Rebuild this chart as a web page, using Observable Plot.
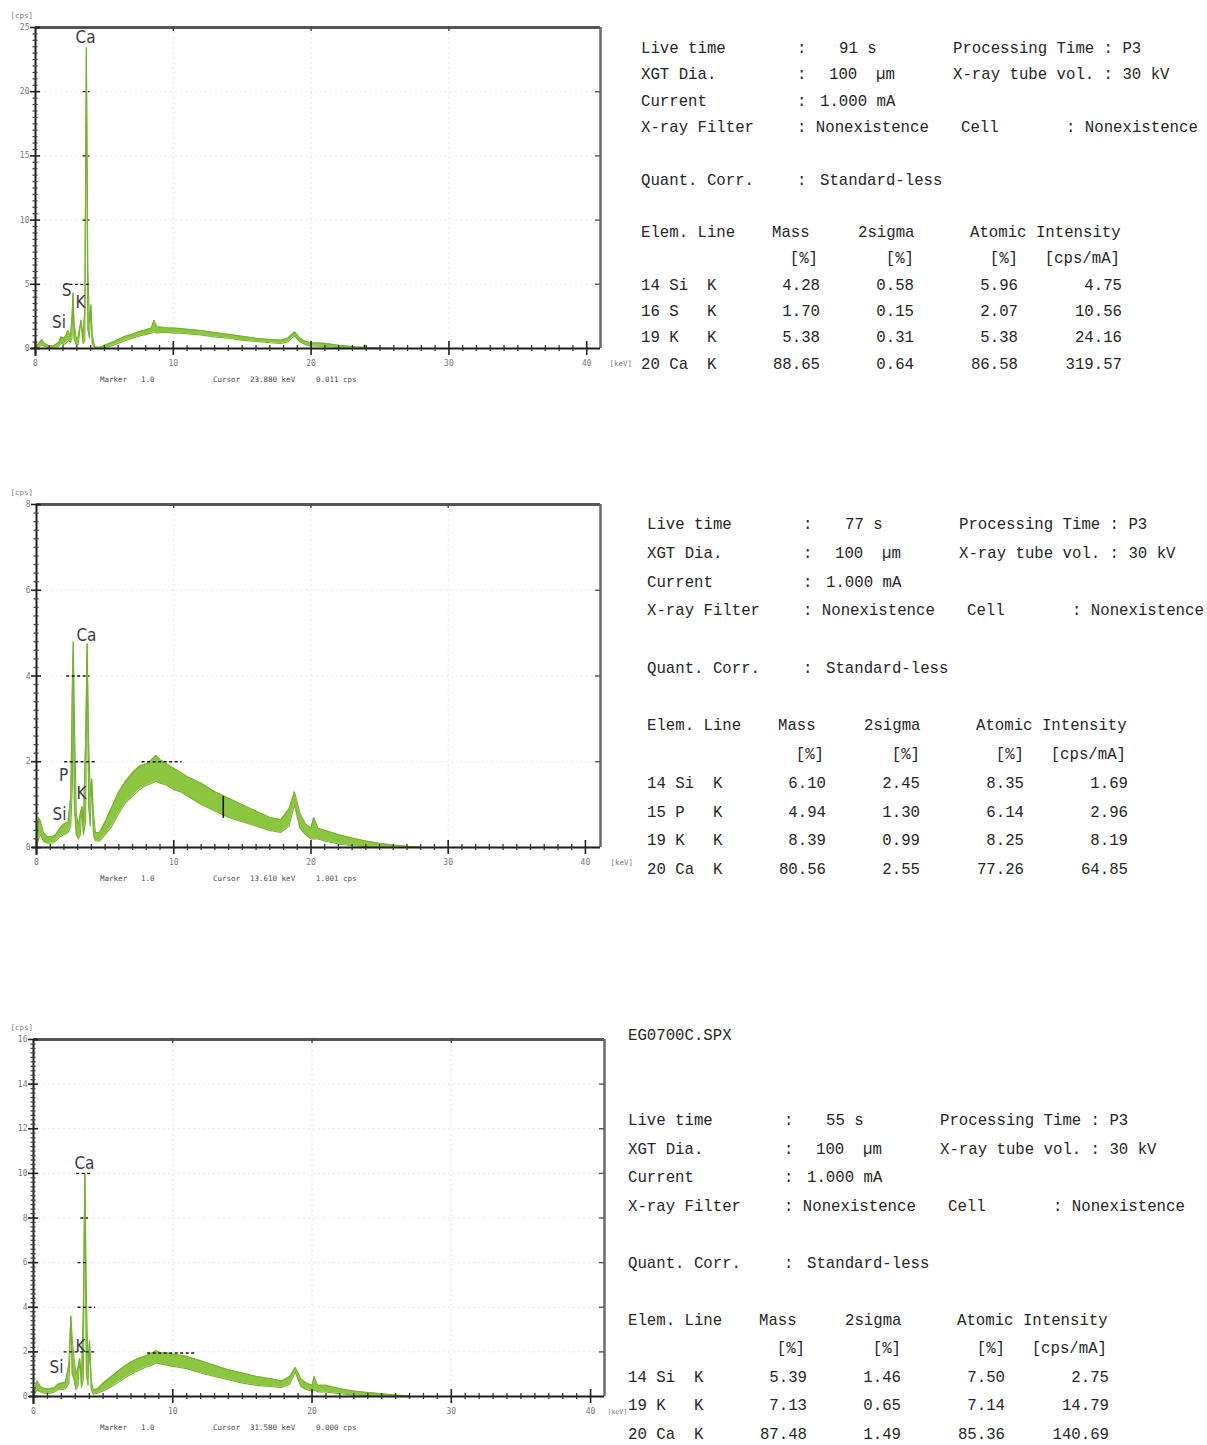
<!DOCTYPE html>
<html>
<head>
<meta charset="utf-8">
<script src="https://cdn.jsdelivr.net/npm/d3@7"></script>
<script src="https://cdn.jsdelivr.net/npm/@observablehq/plot@0.6"></script>
<style>
  html, body { margin: 0; padding: 0; background: #fff; }
  #page { position: relative; width: 1207px; height: 1445px; overflow: hidden; background: #fff; }
  .chart { position: absolute; left: 0; }
  .t { position: absolute; white-space: pre; font-family: "Liberation Mono", "DejaVu Sans Mono", monospace;
       font-size: 15.7px; line-height: 20px; color: #262626; transform-origin: 0 50%; }
  .r { transform: translateX(-100%); }
  .s { position: absolute; white-space: pre; font-family: "DejaVu Sans Mono", monospace;
       font-size: 7.5px; line-height: 10px; color: #4a4a4a; }
</style>
</head>
<body>
<div id="page"></div>
<script>
// ---------- Spectrum 1: energy (keV) with the low / high edge of the noisy trace (cps)
const keV1 = [0,0.25,0.45,0.6,0.9,1.3,1.7,1.85,2.05,2.2,2.35,2.55,2.65,2.72,2.8,2.95,3.1,3.3,3.45,3.58,3.69,3.8,3.92,4.02,4.12,4.3,4.7,5,5.5,6,6.5,7,7.5,8,8.4,8.6,8.8,9.2,9.6,10,10.5,11,11.5,12,13,14,15,16,17,17.8,18.3,18.8,19.2,19.6,20,21,22,23,24,25,26];
const lo1  = [0,0.1,0.3,0.2,0.05,0.05,0.2,0.4,0.3,0.4,0.6,0.5,0.8,4.3,0.8,0.3,0.3,2.2,0.4,0.6,23.4,1.5,0.8,3.4,0.4,0,0,0.05,0.2,0.4,0.6,0.8,0.95,1.1,1.2,1.3,1.2,1.25,1.25,1.2,1.2,1.15,1.1,1.05,0.9,0.8,0.65,0.55,0.45,0.4,0.5,1.0,0.5,0.3,0.2,0.15,0.08,0.03,0,0,0];
const hi1  = [0.1,0.4,0.7,0.45,0.25,0.2,0.5,0.9,0.8,1.0,1.4,1.0,2.5,4.3,2.0,0.8,0.9,2.2,1.0,3.0,23.4,6.0,2.0,3.4,1.0,0.1,0.1,0.25,0.45,0.7,0.95,1.1,1.3,1.45,1.6,2.2,1.7,1.65,1.6,1.6,1.55,1.5,1.45,1.4,1.25,1.1,0.95,0.8,0.7,0.65,0.8,1.3,0.8,0.55,0.45,0.4,0.25,0.15,0.08,0.04,0.02];

// ---------- Spectrum 2
const keV2 = [0,0.15,0.3,0.5,0.8,1.1,1.4,1.7,2.0,2.3,2.5,2.62,2.68,2.76,2.9,3.05,3.2,3.31,3.42,3.58,3.69,3.8,3.92,4.02,4.15,4.3,4.6,5,5.5,6,6.5,7,7.5,8,8.4,8.7,9,9.5,10,10.5,11,12,13,14,15,16,17,17.8,18.4,18.8,19.2,19.6,20,20.2,20.5,21,22,23,24,25,26,27,28];
const lo2  = [0,0.2,0.3,0.15,0.1,0.1,0.15,0.25,0.3,0.35,0.5,1.5,4.8,1.0,0.3,0.2,0.3,0.95,0.3,0.6,4.75,1.0,0.5,1.6,0.3,0.15,0.15,0.3,0.5,0.8,1.05,1.2,1.35,1.45,1.5,1.55,1.5,1.45,1.35,1.3,1.2,1.0,0.85,0.7,0.6,0.5,0.4,0.35,0.5,1.0,0.45,0.3,0.2,0.2,0.2,0.15,0.08,0.04,0.02,0,0,0,0];
const hi2  = [0.1,0.7,0.6,0.35,0.25,0.25,0.3,0.45,0.55,0.6,1.2,4.0,4.8,3.0,0.8,0.5,0.8,0.95,0.6,2.5,4.75,2.5,1.2,1.6,0.8,0.35,0.35,0.6,0.95,1.3,1.55,1.75,1.9,1.95,2.05,2.15,2.05,1.95,1.85,1.75,1.65,1.5,1.3,1.15,1.0,0.85,0.7,0.65,0.9,1.3,0.8,0.55,0.45,0.7,0.45,0.4,0.3,0.22,0.15,0.1,0.06,0.03,0.01];

// ---------- Spectrum 3
const keV3 = [0,0.25,0.5,0.8,1.2,1.5,1.75,2.0,2.3,2.55,2.68,2.78,2.9,3.05,3.2,3.31,3.45,3.58,3.69,3.8,3.92,4.02,4.15,4.3,4.6,5,5.5,6,6.5,7,7.5,8,8.5,8.8,9.2,9.6,10,10.5,11,12,13,14,15,16,17,17.8,18.4,18.8,19.2,19.6,20,20.15,20.4,21,22,23,24,25,26,27];
const lo3  = [0,0.3,0.2,0.15,0.15,0.2,0.3,0.3,0.35,0.6,3.6,1.0,0.8,0.3,0.5,1.7,0.4,0.8,10.0,1.0,0.5,2.5,0.3,0.1,0.15,0.25,0.4,0.6,0.8,1.0,1.15,1.3,1.4,1.5,1.45,1.4,1.35,1.3,1.25,1.05,0.9,0.75,0.6,0.5,0.45,0.4,0.55,1.1,0.45,0.3,0.25,0.3,0.2,0.2,0.12,0.06,0.04,0.02,0,0];
const hi3  = [0.1,0.7,0.45,0.35,0.35,0.4,0.55,0.6,0.65,1.5,3.6,2.6,1.8,1.0,1.3,1.7,0.9,4.0,10.0,4.5,1.2,2.5,0.7,0.3,0.35,0.6,0.85,1.1,1.35,1.55,1.7,1.8,1.95,2.05,1.95,1.95,1.9,1.85,1.8,1.6,1.4,1.2,1.05,0.9,0.8,0.7,0.9,1.3,0.8,0.6,0.5,0.9,0.5,0.5,0.35,0.25,0.18,0.12,0.06,0.03];

// ---------- Peak labels (element, keV, cps)
const peakNames1 = ["Ca", "S", "K", "Si"];
const peakKeV1   = [3.63, 2.25, 3.27, 1.7];
const peakCps1   = [24.2, 4.5, 3.6, 2.0];
const peakNames2 = ["Ca", "P", "K", "Si"];
const peakKeV2   = [3.64, 1.97, 3.28, 1.68];
const peakCps2   = [4.94, 1.68, 1.26, 0.77];
const peakNames3 = ["Ca", "K", "Si"];
const peakKeV3   = [3.66, 3.37, 1.65];
const peakCps3   = [10.45, 2.24, 1.3];

// ---------- Dashed region markers (cps level, keV from, keV to)
const markLevel1 = [5, 10, 15, 20];
const markFrom1  = [2.1, 3.45, 3.45, 3.45];
const markTo1    = [3.9, 3.95, 3.95, 3.95];
const markLevel2 = [4, 2, 2];
const markFrom2  = [2.2, 2.05, 7.7];
const markTo2    = [3.9, 4.3, 10.6];
const markLevel3 = [10, 8, 6, 4, 2, 1.95];
const markFrom3  = [3.1, 3.4, 3.2, 3.2, 2.2, 8.2];
const markTo3    = [4.2, 3.95, 3.95, 4.45, 4.45, 11.7];

// ---------- Cursor readouts
const cursorKeV = ["23.880", "13.610", "31.580"];
const cursorCps = ["0.011", "1.001", "0.000"];
const cursorLow  = [0, 0.68, 0];
const cursorHigh = [0.25, 1.19, 0];

// ---------- Measurement conditions
const liveTime = [91, 77, 55];
const fileNames = ["", "", "EG0700C.SPX"];

// ---------- Quantification tables
const elems1 = ["14 Si", "16 S", "19 K", "20 Ca"];
const mass1  = [4.28, 1.70, 5.38, 88.65];
const sigma1 = [0.58, 0.15, 0.31, 0.64];
const atom1  = [5.96, 2.07, 5.38, 86.58];
const inten1 = [4.75, 10.56, 24.16, 319.57];

const elems2 = ["14 Si", "15 P", "19 K", "20 Ca"];
const mass2  = [6.10, 4.94, 8.39, 80.56];
const sigma2 = [2.45, 1.30, 0.99, 2.55];
const atom2  = [8.35, 6.14, 8.25, 77.26];
const inten2 = [1.69, 2.96, 8.19, 64.85];

const elems3 = ["14 Si", "19 K", "20 Ca"];
const mass3  = [5.39, 7.13, 87.48];
const sigma3 = [1.46, 0.65, 1.49];
const atom3  = [7.50, 7.14, 85.36];
const inten3 = [2.75, 14.79, 140.69];

// ---------- Layout of the three panels
const layout = [
  {top: 0,    width: 640, height: 395, left: 35, right: 600, plotTop: 27,   plotBottom: 348,  xMax: 41,   yMax: 25, yMajor: [0,5,10,15,20,25], yMinor: 0.5,
   unitDx: 9, unitSize: 7.5, textX: 641, textY: 47,   textStep: 26.3},
  {top: 480,  width: 640, height: 420, left: 36, right: 600, plotTop: 504,  plotBottom: 847,  xMax: 41.1, yMax: 8,  yMajor: [0,2,4,6,8],       yMinor: 0.2,
   unitDx: 10, unitSize: 7.5, textX: 647, textY: 523,  textStep: 28.75},
  {top: 1008, width: 628, height: 437, left: 33, right: 604, plotTop: 1039, plotBottom: 1396, xMax: 41,   yMax: 16, yMajor: [0,2,4,6,8,10,12,14,16], yMinor: 0.2,
   unitDx: 3, unitSize: 6.5, textX: 628, textY: 1119, textStep: 28.5}
];

const spectra = [
  {keV: keV1, lo: lo1, hi: hi1, names: peakNames1, pk: peakKeV1, pc: peakCps1, ml: markLevel1, mf: markFrom1, mt: markTo1},
  {keV: keV2, lo: lo2, hi: hi2, names: peakNames2, pk: peakKeV2, pc: peakCps2, ml: markLevel2, mf: markFrom2, mt: markTo2},
  {keV: keV3, lo: lo3, hi: hi3, names: peakNames3, pk: peakKeV3, pc: peakCps3, ml: markLevel3, mf: markFrom3, mt: markTo3}
];

const tables = [
  {elems: elems1, mass: mass1, sigma: sigma1, atom: atom1, inten: inten1},
  {elems: elems2, mass: mass2, sigma: sigma2, atom: atom2, inten: inten2},
  {elems: elems3, mass: mass3, sigma: sigma3, atom: atom3, inten: inten3}
];

const GREEN = "#8cc641";
const GREEN_EDGE = "#76b22c";
const tickFont = "'DejaVu Sans Mono', monospace";
const labelFont = "'Liberation Sans Narrow', 'DejaVu Sans Condensed', 'Liberation Sans', sans-serif";

const page = document.getElementById("page");

function drawSpectrum(i) {
  const L = layout[i], S = spectra[i];
  const band = S.keV.map((e, j) => ({e, lo: S.lo[j], hi: S.hi[j]}));
  const peaks = S.names.map((n, j) => ({n, x: S.pk[j], y: S.pc[j]}));
  const marks = S.ml.map((y, j) => ({y, x1: S.mf[j], x2: S.mt[j]}));
  const cursor = cursorHigh[i] > cursorLow[i] ? [{x: +cursorKeV[i], y1: cursorLow[i], y2: cursorHigh[i]}] : [];
  const xMajor = [0, 10, 20, 30, 40];
  const xMinor = d3.range(0, 41, 1).filter(v => v % 10 !== 0);
  const yMinor = d3.range(0, L.yMax + 1e-9, L.yMinor).map(v => +v.toFixed(2)).filter(v => !L.yMajor.includes(v));

  const plot = Plot.plot({
    width: L.width,
    height: L.height,
    marginTop: L.plotTop - L.top,
    marginBottom: L.top + L.height - L.plotBottom,
    marginLeft: L.left,
    marginRight: L.width - L.right,
    x: {domain: [0, L.xMax], label: null},
    y: {domain: [0, L.yMax], label: null},
    style: {background: "white"},
    marks: [
      // faint background grid
      Plot.ruleY(L.yMajor.slice(1, -1), {stroke: "#e6e6e6", strokeDasharray: "2,3"}),
      Plot.ruleX([10, 20, 30], {stroke: "#e6e6e6", strokeDasharray: "2,3"}),
      // spectrum trace: noise band plus its edges
      Plot.areaY(band, {x: "e", y1: "lo", y2: "hi", fill: GREEN}),
      Plot.line(band, {x: "e", y: "hi", stroke: GREEN_EDGE, strokeWidth: 1.1}),
      Plot.line(band, {x: "e", y: "lo", stroke: GREEN_EDGE, strokeWidth: 1.1}),
      // dashed region markers and cursor
      Plot.ruleY(marks, {y: "y", x1: "x1", x2: "x2", stroke: "#151515", strokeWidth: 1.3, strokeDasharray: "3,2.5"}),
      Plot.ruleX(cursor, {x: "x", y1: "y1", y2: "y2", stroke: "#151515", strokeWidth: 1.6}),
      // frame: grey top/right, black axes
      Plot.ruleY([L.yMax], {stroke: "#565656", strokeWidth: 3}),
      Plot.ruleX([L.xMax], {stroke: "#6a6a6a", strokeWidth: 2.5}),
      Plot.ruleX([0], {stroke: "#1e1e1e", strokeWidth: 2, insetBottom: -8}),
      Plot.ruleY([0], {stroke: "#1e1e1e", strokeWidth: 2, insetLeft: -4}),
      // tick marks on the axes
      Plot.ruleY(L.yMajor, {x1: 0, x2: 0, insetLeft: -5, insetRight: -5, stroke: "#222", strokeWidth: 1.6}),
      Plot.ruleY(yMinor, {x1: 0, x2: 0, insetLeft: -2.5, insetRight: -2.5, stroke: "#444", strokeWidth: 1.3}),
      Plot.ruleY(L.yMajor.slice(1, -1), {x1: L.xMax, x2: L.xMax, insetLeft: -5, stroke: "#555", strokeWidth: 1.4}),
      Plot.ruleX(xMajor, {y1: 0, y2: 0, insetTop: -7, insetBottom: -7, stroke: "#222", strokeWidth: 1.6}),
      Plot.ruleX(xMinor, {y1: 0, y2: 0, insetTop: -3, insetBottom: -3, stroke: "#333", strokeWidth: 1.3}),
      Plot.ruleX([10, 20, 30], {y1: L.yMax, y2: L.yMax, insetBottom: -4, stroke: "#444", strokeWidth: 1.4}),
      // axis labels
      Plot.axisY({ticks: L.yMajor, tickSize: 0, tickPadding: 6, fontSize: 8, color: "#777", fontFamily: tickFont, label: null}),
      Plot.axisX({ticks: xMajor, tickSize: 0, tickPadding: 12, fontSize: 8, color: "#777", fontFamily: tickFont, label: null}),
      Plot.text(["[cps]"], {text: d => d, frameAnchor: "top-left", dx: 10 - L.left, dy: -15, textAnchor: "start", fontSize: 7.5, fill: "#777", fontFamily: tickFont}),
      Plot.text(["[keV]"], {text: d => d, frameAnchor: "bottom-right", dx: L.unitDx, dy: 17, textAnchor: "start", fontSize: L.unitSize, fill: "#777", fontFamily: tickFont}),
      // element labels over the peaks
      Plot.text(peaks, {x: "x", y: "y", text: "n", fontSize: 17, fill: "#3c3c4a", fontFamily: labelFont})
    ]
  });
  const holder = document.createElement("div");
  holder.className = "chart";
  holder.style.top = L.top + "px";
  holder.style.width = L.width + "px";
  holder.appendChild(plot);
  page.appendChild(holder);

  // readout line under the chart
  const yRead = L.plotBottom + 32;
  put("Marker", 100, yRead, "s");
  put("1.0", 141, yRead, "s");
  put("Cursor", 213, yRead, "s");
  put(cursorKeV[i] + " keV", 250, yRead, "s");
  put(cursorCps[i] + " cps", 316, yRead, "s");
}

function put(str, x, y, cls) {
  const d = document.createElement("div");
  d.className = cls;
  d.textContent = str;
  d.style.left = x + "px";
  d.style.top = (y - (cls === "s" ? 5 : 8)) + "px";
  page.appendChild(d);
}

function drawInfo(i) {
  const L = layout[i], T = tables[i];
  const x0 = L.textX;
  const row = r => L.textY + r * L.textStep;
  const txt = (s, dx, r) => put(s, x0 + dx, row(r), "t");
  const rgt = (s, dx, r) => put(s, x0 + dx, row(r), "t r");

  if (fileNames[i]) txt(fileNames[i], 0, -3);
  txt("Live time", 0, 0);    txt(":", 156, 0); txt(liveTime[i] + " s", 198, 0); txt("Processing Time : P3", 312, 0);
  txt("XGT Dia.", 0, 1);     txt(":", 156, 1); txt("100  µm", 188, 1);           txt("X-ray tube vol. : 30 kV", 312, 1);
  txt("Current", 0, 2);      txt(":", 156, 2); txt("1.000 mA", 179, 2);
  txt("X-ray Filter", 0, 3); txt(": Nonexistence", 156, 3); txt("Cell", 320, 3); txt(": Nonexistence", 425, 3);
  txt("Quant. Corr.", 0, 5); txt(":", 156, 5); txt("Standard-less", 179, 5);
  txt("Elem. Line", 0, 7);   txt("Mass", 131, 7); txt("2sigma", 217, 7); txt("Atomic Intensity", 329, 7);
  rgt("[%]", 177, 8); rgt("[%]", 273, 8); rgt("[%]", 377, 8); rgt("[cps/mA]", 479, 8);
  T.elems.forEach((e, j) => {
    const r = 9 + j;
    txt(e, 0, r); txt("K", 66, r);
    rgt(T.mass[j].toFixed(2), 179, r);
    rgt(T.sigma[j].toFixed(2), 273, r);
    rgt(T.atom[j].toFixed(2), 377, r);
    rgt(T.inten[j].toFixed(2), 481, r);
  });
}

[0, 1, 2].forEach(i => { drawSpectrum(i); drawInfo(i); });
</script>
</body>
</html>
